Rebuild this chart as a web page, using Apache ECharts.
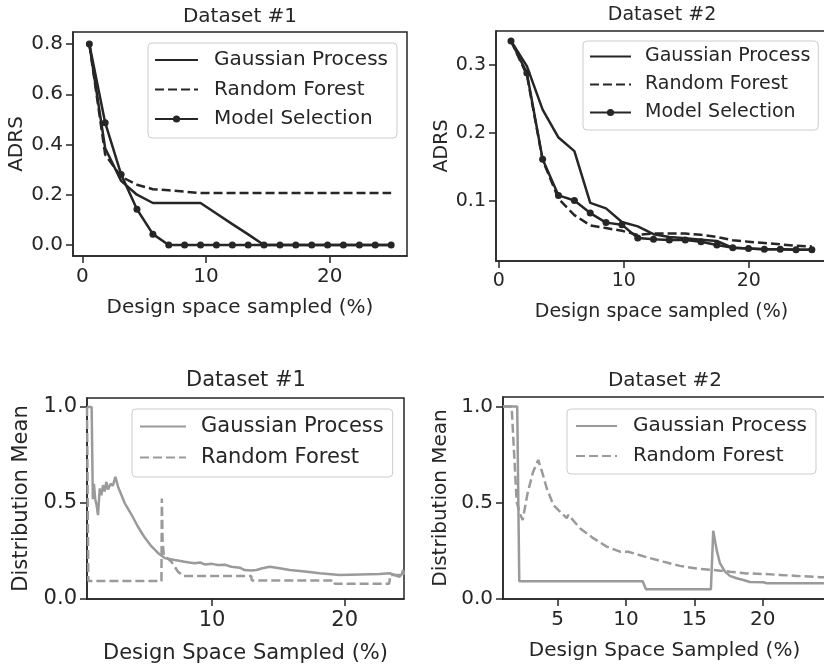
<!DOCTYPE html>
<html><head><meta charset="utf-8">
<script src="https://cdn.jsdelivr.net/npm/echarts/dist/echarts.min.js"></script>
<style>html,body{margin:0;padding:0;background:#fff}#c{width:824px;height:667px}</style>
</head><body><div id="c"></div>
<script>
// ---- Panel A: ADRS, Dataset #1 ----
const xA  = [0.57,1.85,3.14,4.42,5.71,6.99,8.27,9.56,10.84,12.13,13.41,14.69,15.98,17.26,18.55,19.83,21.11,22.40,23.68,24.97];
const gpA = [0.80,0.385,0.255,0.20,0.167,0.167,0.167,0.167,0.125,0.083,0.042,0,0,0,0,0,0,0,0,0];
const rfA = [0.80,0.36,0.272,0.24,0.222,0.218,0.212,0.207,0.207,0.207,0.207,0.207,0.207,0.207,0.207,0.207,0.207,0.207,0.207,0.207];
const msA = [0.80,0.487,0.281,0.142,0.043,0,0,0,0,0,0,0,0,0,0,0,0,0,0,0];
const xTicksA = [0,10,20];
const yTicksA = [0,0.2,0.4,0.6,0.8];

// ---- Panel B: ADRS, Dataset #2 ----
const xB  = [0.98,2.25,3.51,4.78,6.05,7.32,8.58,9.85,11.12,12.38,13.65,14.92,16.18,17.45,18.72,19.98,21.25,22.52,23.78,25.05];
const gpB = [0.335,0.298,0.234,0.193,0.173,0.097,0.089,0.069,0.0625,0.051,0.047,0.045,0.043,0.041,0.031,0.030,0.029,0.029,0.028,0.028];
const rfB = [0.335,0.285,0.16,0.103,0.079,0.064,0.060,0.056,0.050,0.052,0.052,0.052,0.050,0.047,0.042,0.040,0.038,0.036,0.034,0.033];
const msB = [0.335,0.288,0.161,0.108,0.1005,0.082,0.068,0.065,0.0455,0.0435,0.0426,0.0426,0.040,0.035,0.031,0.030,0.029,0.029,0.028,0.028];
const xTicksB = [0,10,20];
const yTicksB = [0.1,0.2,0.3];

// ---- Panel C: Distribution Mean, Dataset #1 ----
const gpCx = [0.58,0.93,1.02,1.1,1.2,1.3,1.41,1.54,1.66,1.79,1.91,2.04,2.16,2.36,2.53,2.72,2.92,3.42,3.93,4.43,4.93,5.43,5.93,6.44,7.19,7.94,8.3,8.7,9.1,9.45,10.0,10.45,11.0,11.46,12.1,12.46,13.0,13.35,13.8,14.35,15.1,15.86,17.0,18.12,19.62,21.13,22.64,23.39,24.14,24.3,24.4,24.47];
const gpCy = [1.0,1.0,0.52,0.6,0.52,0.49,0.437,0.576,0.54,0.593,0.56,0.61,0.57,0.6,0.59,0.636,0.585,0.5,0.44,0.375,0.32,0.275,0.24,0.213,0.203,0.194,0.19,0.186,0.19,0.18,0.183,0.177,0.178,0.168,0.163,0.151,0.148,0.151,0.16,0.168,0.16,0.151,0.143,0.134,0.125,0.128,0.13,0.134,0.116,0.13,0.151,0.125];
const rfCx = [0.58,0.64,0.68,6.19,6.22,6.28,6.37,6.94,7.44,7.82,12.95,13.0,19.2,19.25,23.35,23.45,24.47];
const rfCy = [1.0,1.0,0.094,0.094,0.524,0.3,0.229,0.194,0.142,0.12,0.12,0.097,0.097,0.08,0.08,0.125,0.125];
const xTicksC = [10,20];
const yTicksC = [0,0.5,1.0];

// ---- Panel D: Distribution Mean, Dataset #2 ----
const gpDx = [1.0,2.04,2.19,11.22,11.46,16.21,16.38,16.63,16.87,17.24,17.6,18.09,18.58,19.07,20.04,20.29,24.63];
const gpDy = [1.0,1.0,0.092,0.092,0.05,0.05,0.354,0.255,0.186,0.142,0.12,0.108,0.099,0.088,0.087,0.082,0.082];
const rfDx = [1.0,1.63,2.0,2.2,2.44,2.8,3.2,3.58,3.9,4.2,4.68,5.04,5.16,5.66,5.78,6.63,7.6,8.58,9.56,10.17,10.29,11.51,12.73,13.95,15.17,16.38,17.6,18.83,20.04,21.26,22.48,24.19,24.63];
const rfDy = [1.0,1.0,0.506,0.45,0.41,0.55,0.66,0.722,0.65,0.575,0.489,0.463,0.471,0.42,0.437,0.368,0.316,0.272,0.246,0.245,0.255,0.217,0.194,0.172,0.158,0.151,0.142,0.133,0.13,0.125,0.12,0.113,0.112];
const xTicksD = [5,10,15,20];
const yTicksD = [0,0.5,1.0];

const titles = ['Dataset #1','Dataset #2','Dataset #1','Dataset #2'];
const xNames = ['Design space sampled (%)','Design space sampled (%)','Design Space Sampled (%)','Design Space Sampled (%)'];
const yNames = ['ADRS','ADRS','Distribution Mean','Distribution Mean'];
const LABELS = {A_GP:'Gaussian Process',A_RF:'Random Forest',A_MS:'Model Selection',
                B_GP:'Gaussian Process',B_RF:'Random Forest',B_MS:'Model Selection',
                C_GP:'Gaussian Process',C_RF:'Random Forest',
                D_GP:'Gaussian Process',D_RF:'Random Forest'};

const FONT = 'DejaVu Sans';
const TXT = '#262626';
const DARK = '#262626';
const GRAY = '#9a9a9a';
const DASH = [9,4];

function zip(xs, ys){ return xs.map((x,i)=>[x, ys[i]]); }

// layout per panel
const P = [
  {left:73, top:32, width:334, height:224, xmin:-0.75, xmax:26.25, ymin:-0.044, ymax:0.848, fs:20, xt:xTicksA, yt:yTicksA, xg:42, yg:45},
  {left:496, top:31, width:331, height:230, xmin:-0.22, xmax:26.26, ymin:0.0116, ymax:0.3496, fs:19, xt:xTicksB, yt:yTicksB, xg:42, yg:37},
  {left:87, top:398, width:317, height:201, xmin:0.58, xmax:24.47, ymin:0, ymax:1.047, fs:21, xt:xTicksC, yt:yTicksC, xg:44, yg:55},
  {left:503, top:397, width:323, height:202, xmin:1.0, xmax:24.63, ymin:0, ymax:1.049, fs:20, xt:xTicksD, yt:yTicksD, xg:42, yg:52}
];

const grid = P.map(p => ({left:p.left, top:p.top, width:p.width, height:p.height, show:true,
  borderColor:DARK, borderWidth:1.5, backgroundColor:'transparent', containLabel:false, outerBoundsMode:'none'}));

const xAxis = P.map((p,i) => ({type:'value', gridIndex:i, min:p.xmin, max:p.xmax,
  name:xNames[i], nameLocation:'middle', nameGap:p.xg,
  nameTextStyle:{fontFamily:FONT, fontSize:p.fs, color:TXT},
  splitLine:{show:false},
  axisLine:{show:true, onZero:false, lineStyle:{color:DARK, width:1.5}},
  axisTick:{show:true, length:7, lineStyle:{color:DARK, width:1.5}, customValues:p.xt},
  axisLabel:{fontFamily:FONT, fontSize:p.fs, color:TXT, margin:11, customValues:p.xt, formatter:v=>String(Math.round(v))}
}));

const yAxis = P.map((p,i) => ({type:'value', gridIndex:i, min:p.ymin, max:p.ymax,
  name:yNames[i], nameLocation:'middle', nameGap:p.yg,
  nameTextStyle:{fontFamily:FONT, fontSize:p.fs, color:TXT},
  splitLine:{show:false},
  axisLine:{show:true, onZero:false, lineStyle:{color:DARK, width:1.5}},
  axisTick:{show:true, length:7, lineStyle:{color:DARK, width:1.5}, customValues:p.yt},
  axisLabel:{fontFamily:FONT, fontSize:p.fs, color:TXT, margin:10, customValues:p.yt, formatter:v=>Number(v).toFixed(1)}
}));

function lineSeries(name, idx, data, color, dashed, marker){
  return {type:'line', name:name, xAxisIndex:idx, yAxisIndex:idx, data:data,
    symbol: marker ? 'circle' : 'none', symbolSize: marker ? 7 : 0, showSymbol: !!marker,
    lineStyle:{color:color, width:2.5, type: dashed ? DASH : 'solid'},
    itemStyle:{color:color, opacity: marker ? 1 : 0},
    animation:false, silent:true, z: marker ? 4 : 3};
}

const series = [
  lineSeries('A_GP',0,zip(xA,gpA),DARK,false,false),
  lineSeries('A_RF',0,zip(xA,rfA),DARK,true,false),
  lineSeries('A_MS',0,zip(xA,msA),DARK,false,true),
  lineSeries('B_GP',1,zip(xB,gpB),DARK,false,false),
  lineSeries('B_RF',1,zip(xB,rfB),DARK,true,false),
  lineSeries('B_MS',1,zip(xB,msB),DARK,false,true),
  lineSeries('C_GP',2,zip(gpCx,gpCy),GRAY,false,false),
  lineSeries('C_RF',2,zip(rfCx,rfCy),GRAY,true,false),
  lineSeries('D_GP',3,zip(gpDx,gpDy),GRAY,false,false),
  lineSeries('D_RF',3,zip(rfDx,rfDy),GRAY,true,false)
];

function legend(names, markers, left, top, fs, lh, gap, itemW, pad, textPad){
  return {orient:'vertical', left:left, top:top, selectedMode:false,
    data: names.map((n,i)=> markers[i] ? {name:n} : {name:n, itemStyle:{opacity:0}}),
    formatter: n => LABELS[n],
    itemWidth:itemW, itemHeight:9, itemGap:gap, padding:pad,
    backgroundColor:'rgba(255,255,255,0.8)', borderColor:'#cccccc', borderWidth:1, borderRadius:4,
    textStyle:{fontFamily:FONT, fontSize:fs, color:TXT, lineHeight:lh, padding:[0,0,0,textPad]}};
}

const legends = [
  legend(['A_GP','A_RF','A_MS'],[false,false,true],148,43,20,22,7.5,43,[6,9,8,6],11),
  legend(['B_GP','B_RF','B_MS'],[false,false,true],583,41,19,21,7,41,[5,8,7,6],9),
  legend(['C_GP','C_RF'],[false,false],132,409,21,23,8,46,[6,9,8,7],10),
  legend(['D_GP','D_RF'],[false,false],567,409,20,22,8,41,[6,9,7,8],11)
];

const titlePos = [[240,7,20],[662,6,19],[246,370,21],[665,371,20]];
const graphic = titles.map((t,i)=>({type:'text', x:titlePos[i][0], y:titlePos[i][1], silent:true,
  style:{text:t, fill:TXT, font: titlePos[i][2] + 'px "' + FONT + '"', textAlign:'center', textVerticalAlign:'top', align:'center', verticalAlign:'top'}}));

const chart = echarts.init(document.getElementById('c'), null, {renderer:'canvas'});
chart.setOption({animation:false, backgroundColor:'#ffffff', grid, xAxis, yAxis, series, legend:legends, graphic});
</script>
</body></html>
